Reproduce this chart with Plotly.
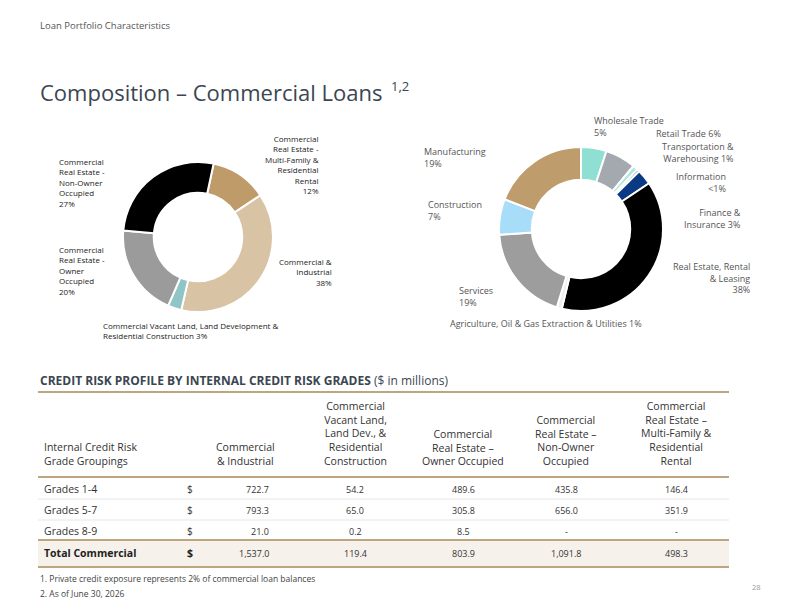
import plotly.graph_objects as go

# ---------------- DATA ----------------
row_labels = ["Grades 1-4", "Grades 5-7", "Grades 8-9"]
total_label = "Total Commercial"
col_headers = [
    "Commercial<br>& Industrial",
    "Commercial<br>Vacant Land,<br>Land Dev., &<br>Residential<br>Construction",
    "Commercial<br>Real Estate –<br>Owner Occupied",
    "Commercial<br>Real Estate –<br>Non-Owner<br>Occupied",
    "Commercial<br>Real Estate –<br>Multi-Family &<br>Residential<br>Rental",
]
ci_vals = [722.7, 793.3, 21.0]
vacant_vals = [54.2, 65.0, 0.2]
owner_vals = [489.6, 305.8, 8.5]
nonowner_vals = [435.8, 656.0, None]
multifam_vals = [146.4, 351.9, None]
totals = [1537.0, 119.4, 803.9, 1091.8, 498.3]

# Left donut (composition by loan type, from totals)
left_labels = ["Commercial Real Estate - Multi-Family & Residential Rental",
               "Commercial & Industrial",
               "Commercial Vacant Land, Land Development & Residential Construction",
               "Commercial Real Estate - Owner Occupied",
               "Commercial Real Estate - Non-Owner Occupied"]
left_values = [totals[4], totals[0], totals[1], totals[2], totals[3]]
left_colors = ["#BF9B6A", "#D8C3A4", "#8FC5C7", "#9B9B9B", "#000000"]

# Right donut (by industry, %)
right_labels = ["Wholesale Trade", "Retail Trade", "Transportation & Warehousing",
                "Information", "Finance & Insurance", "Real Estate, Rental & Leasing",
                "Agriculture, Oil & Gas Extraction & Utilities", "Services",
                "Construction", "Manufacturing"]
right_values = [5, 6, 1, 0.5, 3, 38, 1, 19, 7, 19]
right_colors = ["#8FE0D3", "#A3A9AF", "#AEE8DE", "#4D4D4D", "#0A3A84", "#000000",
                "#EFEFEF", "#9D9D9D", "#A8DDFA", "#BE9C6C"]

W, H = 800, 610
FONT = "Open Sans"
TAN = "#BCA57F"

def px(x):
    return x / W

def py(y):
    return 1 - y / H

fig = go.Figure()

fig.add_trace(go.Pie(
    labels=left_labels, values=left_values, hole=0.59, sort=False,
    direction="clockwise", rotation=12,
    marker=dict(colors=left_colors, line=dict(color="white", width=2)),
    textinfo="none", hoverinfo="label+percent",
    domain=dict(x=[px(123), px(273)], y=[py(312), py(162)]),
    showlegend=False,
))
fig.add_trace(go.Pie(
    labels=right_labels, values=right_values, hole=0.6, sort=False,
    direction="clockwise", rotation=0,
    marker=dict(colors=right_colors, line=dict(color="white", width=2)),
    textinfo="none", hoverinfo="label+percent",
    domain=dict(x=[px(499), px(663)], y=[py(311), py(147)]),
    showlegend=False,
))

ann = []

def add_text(x, y, text, size, color="#333333", xanchor="left", yanchor="middle",
             align="left", family=FONT, bold=False):
    if bold:
        text = "<b>" + text + "</b>"
    ann.append(dict(x=px(x), y=py(y), xref="paper", yref="paper", text=text,
                    showarrow=False, xanchor=xanchor, yanchor=yanchor, align=align,
                    font=dict(family=family, size=size, color=color)))

# Header texts
add_text(38, 25, "Loan Portfolio Characteristics", 9.5, "#555555")
add_text(38, 92, "Composition – Commercial Loans", 22, "#3B4652")
add_text(389, 86, "1,2", 13, "#3B4652")

# Left donut labels
LC = "#222222"
LS = 8
add_text(57, 182, "Commercial<br>Real Estate -<br>Non-Owner<br>Occupied<br>27%", LS, LC)
add_text(321, 164, "Commercial<br>Real Estate -<br>Multi-Family &<br>Residential<br>Rental<br>12%",
         LS, LC, xanchor="right", align="right")
add_text(334, 272, "Commercial &<br>Industrial<br>38%", LS, LC, xanchor="right", align="right")
add_text(57, 270, "Commercial<br>Real Estate -<br>Owner<br>Occupied<br>20%", LS, LC)
add_text(101, 330, "Commercial Vacant Land, Land Development &<br>Residential Construction 3%", LS, LC)

# Right donut labels
RC = "#555555"
RS = 9
add_text(592, 127, "Wholesale Trade<br>5%", RS, RC)
add_text(723, 134, "Retail Trade 6%", RS, RC, xanchor="right", align="right")
add_text(736, 152, "Transportation &<br>Warehousing 1%", RS, RC, xanchor="right", align="right")
add_text(728, 182, "Information<br><1%", RS, RC, xanchor="right", align="right")
add_text(743, 218, "Finance &<br>Insurance 3%", RS, RC, xanchor="right", align="right")
add_text(752, 278, "Real Estate, Rental<br>& Leasing<br>38%", RS, RC, xanchor="right", align="right")
add_text(457, 296, "Services<br>19%", RS, RC)
add_text(448, 324, "Agriculture, Oil & Gas Extraction & Utilities 1%", RS, RC)
add_text(426, 211, "Construction<br>7%", RS, RC)
add_text(422, 157, "Manufacturing<br>19%", RS, RC)

# Table section
add_text(38, 380, "<b>CREDIT RISK PROFILE BY INTERNAL CREDIT RISK GRADES</b> ($ in millions)",
         12, "#3B4652")

TC = "#333333"
TS = 10.5
add_text(42, 470, "Internal Credit Risk<br>Grade Groupings", TS, TC, yanchor="bottom")
col_centers = [245, 355, 463, 566, 676]
for cx, htxt in zip(col_centers, col_headers):
    add_text(cx, 470, htxt, TS, TC, xanchor="center", yanchor="bottom", align="center")

row_y = [489, 510, 531]
total_y = 553
columns = [ci_vals, vacant_vals, owner_vals, nonowner_vals, multifam_vals]

def fmt(v):
    return "-" if v is None else f"{v:,.1f}"

for i, (lbl, y) in enumerate(zip(row_labels, row_y)):
    add_text(42, y, lbl, 10.5, TC)
    add_text(185, y, "$", 10, TC)
    for j, col in enumerate(columns):
        if j == 0:
            add_text(271, y, fmt(col[i]), 9, TC, xanchor="right")
        else:
            add_text(col_centers[j], y, fmt(col[i]), 9, TC, xanchor="center")

add_text(42, total_y, total_label, 10.5, "#222222", bold=True)
add_text(185, total_y, "$", 10.5, "#222222", bold=True)
for j, t in enumerate(totals):
    if j == 0:
        add_text(271, total_y, fmt(t), 9, TC, xanchor="right")
    else:
        add_text(col_centers[j], total_y, fmt(t), 9, TC, xanchor="center")

# Footnotes and page number
add_text(38, 578, "1. Private credit exposure represents 2% of commercial loan balances", 8.5, "#444444")
add_text(38, 593, "2. As of June 30, 2026", 8.5, "#444444")
add_text(763, 587, "28", 7.5, "#999999", xanchor="right")

shapes = []

def hline(y, width, color, x0=38, x1=729):
    shapes.append(dict(type="line", xref="paper", yref="paper",
                       x0=px(x0), x1=px(x1), y0=py(y), y1=py(y),
                       line=dict(color=color, width=width)))

shapes.append(dict(type="rect", xref="paper", yref="paper",
                   x0=px(38), x1=px(729), y0=py(567), y1=py(540),
                   fillcolor="#F6F1EB", line=dict(width=0), layer="below"))
hline(392, 2, TAN)
hline(477, 2, TAN)
hline(499, 1, "#E6E6E6")
hline(520, 1, "#E6E6E6")
hline(540, 2, TAN)
hline(567, 2, TAN)

fig.update_layout(
    width=W, height=H, margin=dict(l=0, r=0, t=0, b=0),
    paper_bgcolor="white", plot_bgcolor="white",
    annotations=ann, shapes=shapes, showlegend=False,
    font=dict(family=FONT),
)

fig.write_html("out.html")
